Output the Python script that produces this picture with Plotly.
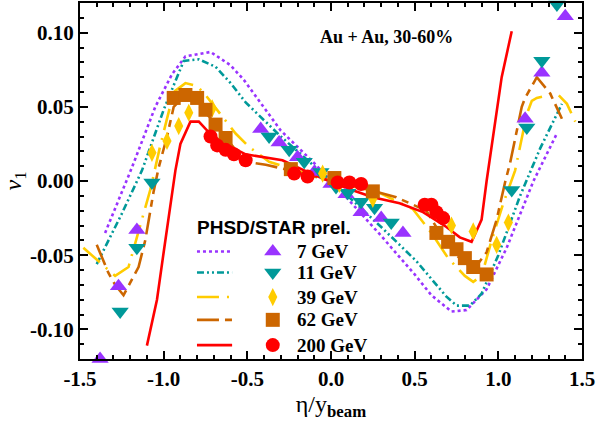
import plotly.graph_objects as go

# ---------------- data ----------------
# PHSD model curves (eta/y_beam, v1)
x7_line = [-1.35, -1.19, -1.05, -0.95, -0.87, -0.72, -0.60, -0.52, -0.30, -0.10, 0.10, 0.30, 0.50, 0.60, 0.72, 0.81, 0.93, 1.05, 1.21, 1.35]
y7_line = [-0.035, 0.009, 0.050, 0.072, 0.084, 0.087, 0.078, 0.068, 0.034, 0.012, -0.012, -0.037, -0.063, -0.077, -0.088, -0.087, -0.073, -0.045, 0.000, 0.032]

x11_line = [-1.40, -1.25, -1.13, -1.00, -0.88, -0.79, -0.69, -0.60, -0.51, -0.30, -0.10, 0.10, 0.30, 0.51, 0.60, 0.69, 0.75, 0.83, 0.90, 1.00, 1.13, 1.25, 1.38]
y11_line = [-0.056, -0.022, 0.007, 0.048, 0.081, 0.082, 0.077, 0.066, 0.053, 0.030, 0.010, -0.010, -0.031, -0.054, -0.066, -0.078, -0.084, -0.084, -0.076, -0.050, -0.010, 0.022, 0.052]

x39_line = [-1.48, -1.39, -1.29, -1.21, -1.16, -1.08, -1.02, -0.99, -0.94, -0.87, -0.80, -0.75, -0.68, -0.57, -0.49, -0.37, -0.20, 0.00, 0.29, 0.49, 0.60, 0.70, 0.80, 0.85, 0.90, 0.96, 1.03, 1.10, 1.17, 1.20, 1.23, 1.35, 1.41, 1.46]
y39_line = [-0.045, -0.054, -0.064, -0.058, -0.038, -0.006, 0.024, 0.038, 0.060, 0.066, 0.064, 0.058, 0.048, 0.032, 0.023, 0.013, 0.007, 0.000, -0.008, -0.019, -0.035, -0.052, -0.064, -0.068, -0.064, -0.040, -0.015, 0.007, 0.045, 0.054, 0.056, 0.059, 0.052, 0.040]

x62_line = [-1.40, -1.33, -1.29, -1.24, -1.15, -1.11, -1.06, -1.03, -0.98, -0.94, -0.88, -0.80, -0.70, -0.60, -0.51, -0.39, -0.20, 0.00, 0.20, 0.39, 0.57, 0.65, 0.75, 0.85, 0.93, 0.99, 1.04, 1.07, 1.14, 1.16, 1.23, 1.31, 1.38]
y62_line = [-0.043, -0.062, -0.070, -0.077, -0.058, -0.040, -0.007, 0.009, 0.030, 0.050, 0.057, 0.052, 0.040, 0.025, 0.013, 0.011, 0.006, 0.000, -0.005, -0.011, -0.020, -0.035, -0.050, -0.060, -0.048, -0.026, -0.001, 0.012, 0.050, 0.056, 0.070, 0.059, 0.042]

x200_line = [-1.10, -1.04, -1.00, -0.93, -0.90, -0.84, -0.79, -0.74, -0.65, -0.51, -0.29, -0.10, 0.10, 0.25, 0.41, 0.55, 0.69, 0.77, 0.84, 0.90, 0.93, 1.02, 1.08]
y200_line = [-0.111, -0.080, -0.048, 0.007, 0.025, 0.040, 0.040, 0.034, 0.026, 0.018, 0.014, 0.004, -0.005, -0.011, -0.015, -0.021, -0.031, -0.038, -0.041, -0.026, 0.000, 0.070, 0.101]

# STAR preliminary data points
x7_pts = [-1.38, -1.27, -1.16, -0.42, -0.31, -0.20, -0.10, 0.00, 0.09, 0.18, 0.30, 0.43, 1.16, 1.26, 1.40]
y7_pts = [-0.120, -0.071, -0.033, 0.035, 0.026, 0.016, 0.006, -0.002, -0.009, -0.021, -0.025, -0.035, 0.042, 0.073, 0.111]

x11_pts = [-1.26, -1.16, -1.07, -0.37, -0.25, -0.16, -0.06, 0.03, 0.10, 0.18, 0.26, 0.36, 1.08, 1.17, 1.26, 1.35]
y11_pts = [-0.088, -0.045, -0.001, 0.030, 0.021, 0.013, 0.006, -0.004, -0.008, -0.014, -0.018, -0.028, -0.006, 0.036, 0.081, 0.119]

x39_pts = [-1.07, -0.98, -0.91, -0.85, -0.71, -0.05, 0.05, 0.25, 0.72, 0.85, 0.99, 1.06]
y39_pts = [0.019, 0.027, 0.037, 0.046, 0.049, 0.005, -0.002, -0.012, -0.030, -0.034, -0.043, -0.028]

x62_pts = [-0.94, -0.87, -0.80, -0.75, -0.69, -0.63, -0.24, 0.02, 0.25, 0.63, 0.70, 0.75, 0.80, 0.85, 0.93]
y62_pts = [0.056, 0.058, 0.056, 0.048, 0.038, 0.029, 0.008, 0.002, -0.007, -0.035, -0.041, -0.046, -0.052, -0.058, -0.063]

x200_pts = [-0.72, -0.68, -0.63, -0.58, -0.51, -0.22, -0.14, 0.04, 0.11, 0.18, 0.56, 0.60, 0.63, 0.67]
y200_pts = [0.030, 0.024, 0.021, 0.018, 0.014, 0.005, 0.003, -0.001, -0.001, -0.002, -0.016, -0.016, -0.021, -0.025]

energy_labels = ["7 GeV", "11 GeV", "39 GeV", "62 GeV", "200 GeV"]

x_tickvals = [-1.5, -1.0, -0.5, 0.0, 0.5, 1.0, 1.5]
x_ticktext = ["-1.5", "-1.0", "-0.5", "0.0", "0.5", "1.0", "1.5"]
y_tickvals = [-0.10, -0.05, 0.00, 0.05, 0.10]
y_ticktext = ["-0.10", "-0.05", "0.00", "0.05", "0.10"]

# ---------------- styles ----------------
colors = ["#9933FF", "#009999", "#FFCC00", "#CC6600", "#FF0000"]
dashes = ["3px,3px", "7px,3px,2px,3px,2px,3px", "22px,8px,2px,8px", "22px,6px,7px,6px", "solid"]
symbols = ["triangle-up", "triangle-down", "diamond-tall", "square", "circle"]
msizes = [15, 15, 13, 14, 14]

lines = [(x7_line, y7_line), (x11_line, y11_line), (x39_line, y39_line), (x62_line, y62_line), (x200_line, y200_line)]
points = [(x7_pts, y7_pts), (x11_pts, y11_pts), (x39_pts, y39_pts), (x62_pts, y62_pts), (x200_pts, y200_pts)]

fig = go.Figure()

for (xs, ys), c, d in zip(lines, colors, dashes):
    fig.add_trace(go.Scatter(x=xs, y=ys, mode="lines", showlegend=False,
                             line=dict(color=c, width=2.6, dash=d)))

for (xs, ys), c, s, m in zip(points, colors, symbols, msizes):
    fig.add_trace(go.Scatter(x=xs, y=ys, mode="markers", showlegend=False, cliponaxis=False,
                             marker=dict(color=c, symbol=s, size=m, line=dict(width=0))))

# ---------------- custom legend (in plot-fraction coordinates) ----------------
leg_rows = [0.302, 0.243, 0.174, 0.110, 0.039]
leg_line_x = [0.233, 0.303]
leg_mark_x = 0.384
leg_text_x = 0.428
for i in range(5):
    yv = leg_rows[i]
    fig.add_trace(go.Scatter(x=leg_line_x, y=[yv, yv], mode="lines", xaxis="x2", yaxis="y2",
                             showlegend=False, line=dict(color=colors[i], width=2.6, dash=dashes[i])))
    fig.add_trace(go.Scatter(x=[leg_mark_x], y=[yv], mode="markers", xaxis="x2", yaxis="y2",
                             showlegend=False, marker=dict(color=colors[i], symbol=symbols[i], size=msizes[i])))
    fig.add_annotation(x=leg_text_x, y=yv, xref="paper", yref="paper", text="<b>%s</b>" % energy_labels[i],
                       showarrow=False, xanchor="left", yanchor="middle",
                       font=dict(family="Liberation Serif", size=19, color="black"))

fig.add_annotation(x=0.229, y=0.368, xref="paper", yref="paper", text="<b>PHSD/STAR prel.</b>",
                   showarrow=False, xanchor="left", yanchor="middle",
                   font=dict(family="Liberation Sans", size=19, color="black"))

fig.add_annotation(x=0.610, y=0.905, xref="paper", yref="paper", text="<b>Au + Au, 30-60%</b>",
                   showarrow=False, xanchor="center", yanchor="middle",
                   font=dict(family="Liberation Serif", size=18, color="black"))

axis_common = dict(showline=True, linewidth=2, linecolor="black", mirror="ticks",
                   ticks="inside", ticklen=8, tickwidth=1.5, tickcolor="black",
                   showgrid=False, zeroline=False, automargin=False,
                   tickfont=dict(family="Liberation Serif", size=21, color="black", weight="bold"))

fig.update_layout(
    width=597, height=425,
    margin=dict(l=80, r=15, t=3, b=66),
    plot_bgcolor="white", paper_bgcolor="white",
    xaxis=dict(range=[-1.5, 1.5], tickmode="array", tickvals=x_tickvals, ticktext=x_ticktext,
               minor=dict(tickmode="linear", tick0=0, dtick=0.1, ticks="inside", ticklen=4, tickcolor="black"),
               title=dict(text="η/y<sub><b>beam</b></sub>", standoff=4,
                          font=dict(family="Liberation Serif", size=24, color="black")),
               **axis_common),
    yaxis=dict(range=[-0.12, 0.12], tickmode="array", tickvals=y_tickvals, ticktext=y_ticktext,
               minor=dict(tickmode="linear", tick0=0, dtick=0.01, ticks="inside", ticklen=4, tickcolor="black"),
               title=dict(text="<i>v</i><sub>1</sub>", standoff=12,
                          font=dict(family="Liberation Serif", size=24, color="black")),
               **axis_common),
    xaxis2=dict(overlaying="x", range=[0, 1], visible=False),
    yaxis2=dict(overlaying="y", range=[0, 1], visible=False),
)

fig.write_html("out.html", config={"displayModeBar": False},
               post_script="document.body.style.margin='0px';")
